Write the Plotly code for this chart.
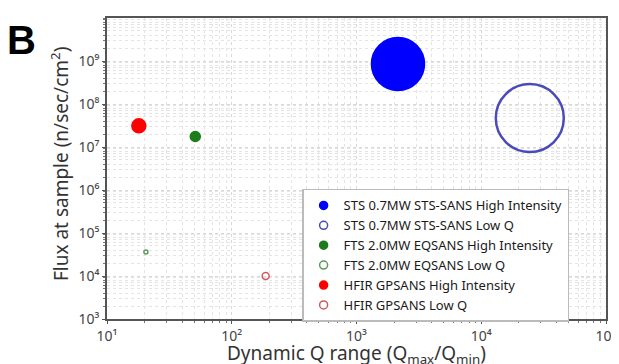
"""Flux vs dynamic Q range for SANS instruments (panel B)."""
import plotly.graph_objects as go

# Instrument data
names = [
    "STS 0.7MW STS-SANS High Intensity",
    "STS 0.7MW STS-SANS Low Q",
    "FTS 2.0MW EQSANS High Intensity",
    "FTS 2.0MW EQSANS Low Q",
    "HFIR GPSANS High Intensity",
    "HFIR GPSANS Low Q",
]
q_range = [2150, 24500, 51, 20.5, 18, 187]
flux = [8.5e8, 4.7e7, 1.75e7, 3.6e4, 3.1e7, 1.0e4]
sizes = [52, 68, 10, 4, 14, 7]
open_marker = [False, True, False, True, False, True]
colors = ["#0000ff", "#4a4ab8", "#1a7d1a", "#5a9a5a", "#ff0000", "#d05a5a"]

x_tickvals = [1e1, 1e2, 1e3, 1e4, 1e5]
x_ticktext = ["10¹", "10²", "10³", "10⁴", "10⁵"]
y_tickvals = [1e3, 1e4, 1e5, 1e6, 1e7, 1e8, 1e9]
y_ticktext = ["10³", "10⁴", "10⁵", "10⁶", "10⁷", "10⁸", "10⁹"]

FONT = "Noto Sans, Open Sans, sans-serif"

fig = go.Figure()
for name, x, y, s, hollow, c in zip(names, q_range, flux, sizes, open_marker, colors):
    symbol = "circle-open" if hollow else "circle"
    lw = 2.5 if s > 30 else 1.5
    fig.add_trace(
        go.Scatter(
            x=[x], y=[y], mode="markers", showlegend=False,
            marker=dict(symbol=symbol, size=s, color=c, line=dict(width=lw, color=c)),
        )
    )
    # legend entry with a small constant-size marker
    fig.add_trace(
        go.Scatter(
            x=[None], y=[None], mode="markers", name=name,
            marker=dict(symbol=symbol, size=8, color=c, line=dict(width=1.5, color=c)),
        )
    )

axis_common = dict(
    type="log",
    showline=True, linecolor="#555", linewidth=1.5, mirror=True,
    ticks="outside", ticklen=3, tickcolor="#555",
    showgrid=True, gridcolor="#d8d8d8", griddash="dot",
    minor=dict(dtick="D1", ticks="outside", ticklen=2, tickcolor="#777", showgrid=True,
               gridcolor="#e4e4e4", griddash="dot"),
    tickfont=dict(size=14, color="#444", family=FONT),
    ticklabeloverflow="allow",
    automargin=False,
    zeroline=False,
)

fig.update_xaxes(**axis_common, range=[1, 5], tickvals=x_tickvals, ticktext=x_ticktext)
fig.update_yaxes(**axis_common, range=[3, 10], tickvals=y_tickvals, ticktext=y_ticktext)

# axis titles placed as annotations so the plot area stays fixed
fig.add_annotation(
    text="Dynamic Q range (Q<sub>max</sub>/Q<sub>min</sub>)", xref="paper", yref="paper",
    x=0.5, y=-0.116, xanchor="center", yanchor="middle", showarrow=False,
    font=dict(size=19, color="#333", family=FONT),
)
fig.add_annotation(
    text="Flux at sample (n/sec/cm<sup>2</sup>)", xref="paper", yref="paper",
    x=-0.094, y=0.515, xanchor="center", yanchor="middle", textangle=-90, showarrow=False,
    font=dict(size=19, color="#333", family=FONT),
)

fig.add_annotation(
    text="<b>B</b>", xref="paper", yref="paper", x=-0.205, y=1.008,
    xanchor="left", yanchor="top", showarrow=False,
    font=dict(size=40, color="black", family="Liberation Sans, Arial, sans-serif"),
)

# the page body adds an 8px offset, so margins are shifted to compensate
fig.update_layout(
    width=619, height=364,
    margin=dict(l=99, r=21, t=10, b=53),
    plot_bgcolor="white", paper_bgcolor="white",
    legend=dict(
        x=0.391, y=0.432, xanchor="left", yanchor="top",
        bgcolor="white", bordercolor="#bbb", borderwidth=1.5,
        font=dict(size=13, color="#1a1a1a", family=FONT),
        tracegroupgap=0, itemwidth=30,
    ),
)

fig.write_html("out.html")
